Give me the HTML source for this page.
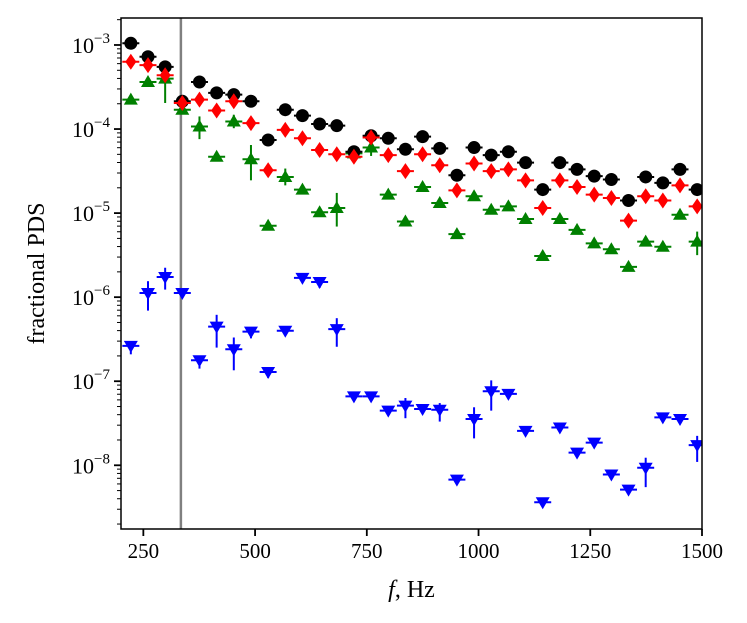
<!DOCTYPE html>
<html><head><meta charset="utf-8"><style>
html,body{margin:0;padding:0;background:#fff;}
svg{display:block;font-family:"Liberation Serif",serif;}
</style></head><body>
<svg id="chart" width="747" height="623" viewBox="0 0 747 623" xmlns="http://www.w3.org/2000/svg"></svg>
<script>
const freqStart = 222, freqStep = 38.4;
const xTicks = [250, 500, 750, 1000, 1250, 1500];
const yTicksExp = [-3, -4, -5, -6, -7, -8];
const markerLine = 334;
const blackLog = [-2.98,-3.14,-3.26,-3.67,-3.44,-3.57,-3.59,-3.67,-4.13,-3.77,-3.84,-3.94,-3.96,-4.27,-4.08,-4.11,-4.24,-4.09,-4.23,-4.55,-4.22,-4.31,-4.27,-4.40,-4.72,-4.40,-4.48,-4.56,-4.60,-4.85,-4.57,-4.64,-4.48,-4.72];
const redLog = [-3.20,-3.24,-3.36,-3.69,-3.65,-3.78,-3.67,-3.93,-4.49,-4.01,-4.11,-4.25,-4.30,-4.33,-4.10,-4.31,-4.50,-4.30,-4.43,-4.73,-4.41,-4.50,-4.48,-4.61,-4.94,-4.61,-4.69,-4.78,-4.82,-5.09,-4.80,-4.85,-4.67,-4.92];
const greenLog = [-3.65,-3.44,-3.40,-3.77,-3.97,-4.33,-3.91,-4.36,-5.15,-4.57,-4.72,-4.99,-4.94,-4.29,-4.22,-4.78,-5.10,-4.69,-4.88,-5.25,-4.80,-4.96,-4.92,-5.07,-5.51,-5.07,-5.20,-5.36,-5.43,-5.64,-5.34,-5.40,-5.02,-5.34];
const greenErrUp = [0.04,0.05,0.10,0.04,0.12,0.04,0.08,0.17,0.03,0.10,0.04,0.04,0.18,0.04,0.09,0.04,0.04,0.04,0.04,0.04,0.04,0.04,0.04,0.04,0.04,0.04,0.04,0.04,0.04,0.04,0.04,0.04,0.04,0.12];
const greenErrDn = [0.04,0.05,0.29,0.04,0.15,0.04,0.08,0.25,0.03,0.10,0.04,0.04,0.22,0.04,0.10,0.04,0.04,0.04,0.04,0.04,0.04,0.04,0.04,0.04,0.04,0.04,0.04,0.04,0.04,0.04,0.04,0.04,0.04,0.16];
const blueLog = [-6.58,-5.95,-5.76,-5.95,-6.75,-6.35,-6.62,-6.41,-6.89,-6.40,-5.77,-5.82,-6.38,-7.18,-7.18,-7.35,-7.29,-7.33,-7.34,-8.17,-7.45,-7.12,-7.15,-7.59,-8.44,-7.55,-7.85,-7.73,-8.11,-8.29,-8.03,-7.43,-7.45,-7.76];
const blueErrUp = [0.04,0.14,0.11,0.04,0.05,0.14,0.14,0.05,0.04,0.04,0.04,0.05,0.13,0.04,0.04,0.04,0.09,0.04,0.08,0.04,0.14,0.13,0.04,0.04,0.04,0.04,0.04,0.04,0.04,0.04,0.12,0.04,0.04,0.11];
const blueErrDn = [0.10,0.21,0.15,0.04,0.10,0.25,0.25,0.08,0.07,0.05,0.04,0.07,0.21,0.04,0.04,0.04,0.15,0.04,0.14,0.04,0.23,0.23,0.06,0.06,0.05,0.05,0.05,0.05,0.05,0.05,0.23,0.06,0.06,0.20];

const L=121, R=702, T=18, B=529;
const X0=200, X1=1500, Y0=-8.758, Y1=-2.679;
const sx = f => L + (f - X0) / (X1 - X0) * (R - L);
const sy = lg => B - (lg - Y0) / (Y1 - Y0) * (B - T);
const NS = "http://www.w3.org/2000/svg";
const svg = document.getElementById('chart');
function mk(tag, attrs, parent) {
  const e = document.createElementNS(NS, tag);
  for (const k in attrs) e.setAttribute(k, attrs[k]);
  (parent || svg).appendChild(e);
  return e;
}
const freqs = blackLog.map((_, i) => freqStart + freqStep * i);

const defs = mk('defs', {});
const cp = mk('clipPath', {id: 'clip'}, defs);
mk('rect', {x: L, y: T, width: R - L, height: B - T}, cp);

const vl = mk('line', {x1: sx(markerLine), x2: sx(markerLine), y1: T, y2: B, stroke: '#808080', 'stroke-width': 2.5});



function series(name, vals, up, dn, color, shape) {
  const g = mk('g', {'clip-path': 'url(#clip)'});
  
  
  vals.forEach((v, i) => {
    const f = freqs[i], x = sx(f), y = sy(v);
    const pg = mk('g', {}, g);
    
    
    mk('line', {x1: sx(f - 19), x2: sx(f + 19), y1: y, y2: y, stroke: color, 'stroke-width': 2}, pg);
    const u = up ? up[i] : 0.03, d = dn ? dn[i] : 0.03;
    mk('line', {x1: x, x2: x, y1: sy(v + u), y2: sy(v - d), stroke: color, 'stroke-width': 2}, pg);
    if (shape === 'circle') mk('circle', {cx: x, cy: y, r: 6.5, fill: color}, pg);
    else if (shape === 'diamond') mk('polygon', {points: `${x},${y-8} ${x+5.5},${y} ${x},${y+8} ${x-5.5},${y}`, fill: color}, pg);
    else if (shape === 'up') mk('polygon', {points: `${x},${y-7} ${x+7},${y+5} ${x-7},${y+5}`, fill: color}, pg);
    else mk('polygon', {points: `${x},${y+7} ${x+7},${y-5} ${x-7},${y-5}`, fill: color}, pg);
  });
}
series('green', greenLog, greenErrUp, greenErrDn, '#008000', 'up');
series('black', blackLog, null, null, '#000000', 'circle');
series('red', redLog, null, null, '#ff0000', 'diamond');
series('blue', blueLog, blueErrUp, blueErrDn, '#0000ff', 'down');

const fr = mk('rect', {x: L, y: T, width: R - L, height: B - T, fill: 'none', stroke: '#000', 'stroke-width': 1.5});



xTicks.forEach(t => {
  const x = sx(t);
  mk('line', {x1: x, x2: x, y1: B, y2: B + 7, stroke: '#000', 'stroke-width': 1.8});
  const tx = mk('text', {x: x, y: B + 29, 'text-anchor': 'middle', 'font-size': 21});
  tx.textContent = t;
  
  
});
for (let e = -9; e <= -2; e++) {
  for (let m = 1; m <= 9; m++) {
    const lg = e + Math.log10(m);
    if (lg < Y0 || lg > Y1) continue;
    const y = sy(lg);
    mk('line', {x1: L - (m === 1 ? 7 : 4), x2: L, y1: y, y2: y, stroke: '#000', 'stroke-width': m === 1 ? 1.8 : 1});
  }
}
yTicksExp.forEach(e => {
  const y = sy(e);
  const tx = mk('text', {x: L - 11, y: y + 8, 'text-anchor': 'end', 'font-size': 22});
  
  
  const a = mk('tspan', {}, tx); a.textContent = '10';
  const b = mk('tspan', {dy: -10, 'font-size': 15}, tx); b.textContent = '\u2212' + Math.abs(e);
});

const xl = mk('text', {x: sx(850), y: 597, 'text-anchor': 'middle', 'font-size': 24});


const xi = mk('tspan', {'font-style': 'italic'}, xl); xi.textContent = 'f';
const xr = mk('tspan', {}, xl); xr.textContent = ', Hz';
const yl = mk('text', {x: 0, y: 0, 'text-anchor': 'middle', 'font-size': 24, transform: `translate(44,${(T + B) / 2}) rotate(-90)`});
yl.textContent = 'fractional PDS';


</script>
</body></html>
